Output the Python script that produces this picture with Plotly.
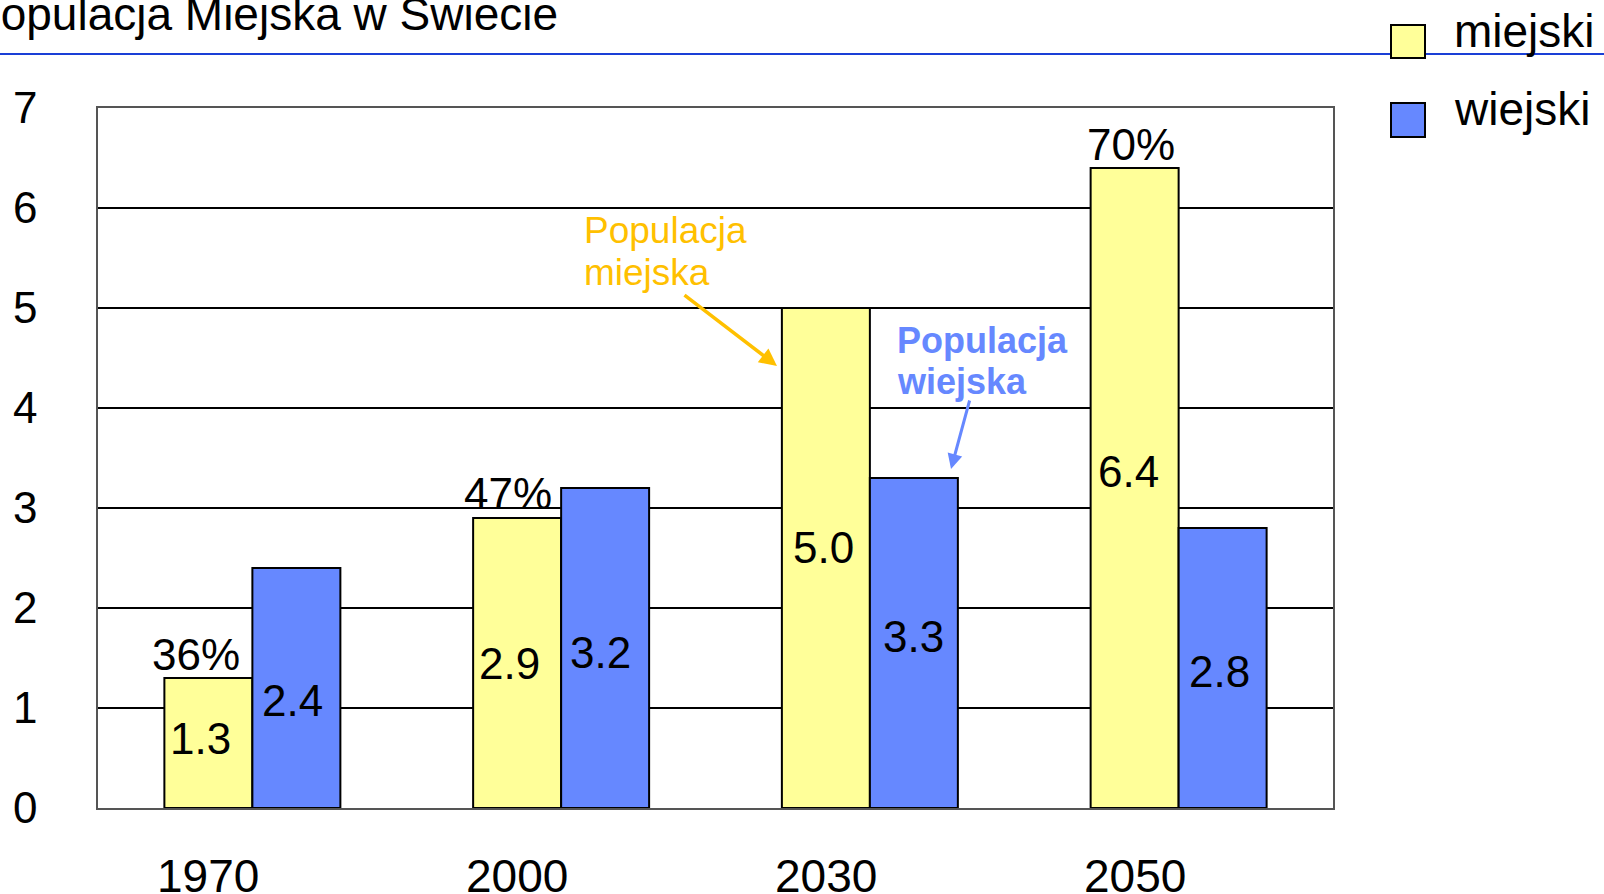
import plotly.graph_objects as go

# ---- data ----
years = ["1970", "2000", "2030", "2050"]
urban = [1.3, 2.9, 5.0, 6.4]
rural = [2.4, 3.2, 3.3, 2.8]
urban_share = ["36%", "47%", None, "70%"]
y_ticks = [0, 1, 2, 3, 4, 5, 6, 7]
series_names = ["miejski", "wiejski"]
title_text = "Populacja Miejska w Świecie"

# ---- label placement (data-unit heights, pixel shifts) ----
urban_label_y = [0.70, 1.45, 2.61, 3.37]
rural_label_y = [1.08, 1.56, 1.72, 1.37]
share_label_y = [1.54, 3.15, None, 6.64]
urban_label_dx = [-52, -52, -46, -50]
rural_label_dx = [40, 39, 44, 41]
share_label_dx = [-56, -53, 0, -48]
year_label_dx = -44

YELLOW = "#ffff99"
BLUE = "#6688ff"
ORANGE = "#ffc000"
FONT = "Liberation Sans, Arial, sans-serif"

W, H = 1604, 894
L, R, T, B = 98, 1333, 108, 808


def px(x):
    return (x - L) / (R - L)


def py(y):
    return (B - y) / (B - T)


fig = go.Figure()
fig.add_trace(go.Bar(x=years, y=urban, name=series_names[0], marker=dict(color=YELLOW, line=dict(color="black", width=2)), showlegend=False))
fig.add_trace(go.Bar(x=years, y=rural, name=series_names[1], marker=dict(color=BLUE, line=dict(color="black", width=2)), showlegend=False))

ann = []
for i, yr in enumerate(years):
    ann.append(dict(x=i, y=urban_label_y[i], xref="x", yref="y", text=f"{urban[i]:.1f}", showarrow=False,
                    xshift=urban_label_dx[i], font=dict(size=44, color="black", family=FONT)))
    ann.append(dict(x=i, y=rural_label_y[i], xref="x", yref="y", text=f"{rural[i]:.1f}", showarrow=False,
                    xshift=rural_label_dx[i], font=dict(size=44, color="black", family=FONT)))
    if urban_share[i]:
        ann.append(dict(x=i, y=share_label_y[i], xref="x", yref="y", text=urban_share[i], showarrow=False,
                        xshift=share_label_dx[i], font=dict(size=44, color="black", family=FONT)))
    # category label under the axis
    ann.append(dict(x=i, y=py(876), xref="x", yref="paper", text=yr, showarrow=False,
                    xshift=year_label_dx, yanchor="middle", font=dict(size=46, color="black", family=FONT)))

# title (clipped at top-left like reference)
ann.append(dict(x=px(560), y=py(14), xref="paper", yref="paper", text=title_text, showarrow=False,
                xanchor="right", yanchor="middle", font=dict(size=46, color="black", family=FONT)))

# callouts
for txt, yy in (("Populacja", 230), ("miejska", 272)):
    ann.append(dict(x=px(582), y=py(yy), xref="paper", yref="paper", text=txt, showarrow=False,
                    xanchor="left", yanchor="middle", font=dict(size=37, color=ORANGE, family=FONT)))
ann.append(dict(x=px(777), y=py(366), xref="paper", yref="paper", text="", showarrow=True, ax=-94, ay=-72,
                arrowcolor=ORANGE, arrowwidth=3.5, arrowhead=2, arrowsize=1))
for txt, yy in (("<b>Populacja</b>", 340), ("<b>wiejska</b>", 381)):
    ann.append(dict(x=px(895), y=py(yy), xref="paper", yref="paper", text=txt, showarrow=False,
                    xanchor="left", yanchor="middle", font=dict(size=36, color=BLUE, family=FONT)))
ann.append(dict(x=px(951), y=py(469), xref="paper", yref="paper", text="", showarrow=True, ax=19, ay=-70,
                arrowcolor=BLUE, arrowwidth=3, arrowhead=2, arrowsize=1))

# legend text
ann.append(dict(x=px(1452), y=py(31), xref="paper", yref="paper", text=series_names[0], showarrow=False,
                xanchor="left", yanchor="middle", font=dict(size=46, color="black", family=FONT)))
ann.append(dict(x=px(1452), y=py(109), xref="paper", yref="paper", text=series_names[1], showarrow=False,
                xanchor="left", yanchor="middle", font=dict(size=46, color="black", family=FONT)))

shapes = [
    dict(type="line", xref="paper", yref="paper", x0=px(0), x1=px(W), y0=py(54), y1=py(54),
         line=dict(color="#1a3fd6", width=2)),
    dict(type="rect", xref="paper", yref="paper", x0=px(1391), x1=px(1425), y0=py(25), y1=py(58),
         fillcolor=YELLOW, line=dict(color="black", width=2)),
    dict(type="rect", xref="paper", yref="paper", x0=px(1391), x1=px(1425), y0=py(103), y1=py(137),
         fillcolor=BLUE, line=dict(color="black", width=2)),
]

fig.update_layout(
    width=W, height=H,
    margin=dict(l=L, r=W - R, t=T, b=H - B, autoexpand=False),
    paper_bgcolor="white", plot_bgcolor="white",
    barmode="group", bargap=0.43, bargroupgap=0,
    font=dict(family=FONT, color="black"),
    annotations=ann, shapes=shapes,
    xaxis=dict(type="category", range=[-0.5, len(years) - 0.5], showgrid=False, showline=True, mirror=True,
               linecolor="#555555", linewidth=1.5, ticks="", showticklabels=False),
    yaxis=dict(range=[0, 7], tickvals=y_ticks, showgrid=True, gridcolor="black", gridwidth=2,
               showline=True, mirror=True, linecolor="#555555", linewidth=1.5, zeroline=False,
               ticks="", tickfont=dict(size=44, family=FONT), ticklabelstandoff=50),
)

fig.write_html("out.html")
